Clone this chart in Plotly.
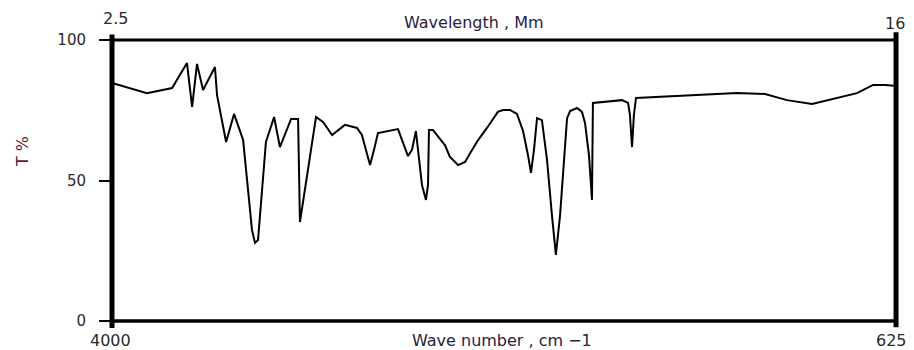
import plotly.graph_objects as go

# Wavenumber (cm-1) and transmittance (%)
wavenumber = [4000, 3850, 3742, 3678, 3656, 3635, 3609, 3558, 3549, 3510,
              3476, 3437, 3399, 3386, 3373, 3339, 3304, 3279, 3231, 3201,
              3193, 3124, 3094, 3055, 3000, 2948, 2927, 2909, 2892, 2875,
              2858, 2772, 2755, 2738, 2729, 2712, 2695, 2686, 2669, 2652,
              2643, 2639, 2622, 2570, 2549, 2514, 2484, 2463, 2428, 2390,
              2343, 2321, 2291,
              2261, 2235, 2214, 2201, 2188, 2175, 2154, 2132, 2111, 2094,
              2076, 2059, 2046, 2033, 2003, 1982, 1969, 1952, 1939, 1935,
              1810, 1784, 1776, 1767, 1759, 1750, 1570, 1445, 1316, 1196,
              1102, 994, 904, 801, 732, 681, 629]
transmittance = [84.7, 81.1, 82.9, 91.8, 76.2, 91.5, 82.2, 90.4, 80.4, 63.7,
                 73.7, 64.4, 32.4, 27.8, 28.8, 63.7, 72.6, 61.9, 71.9, 71.9,
                 35.2, 72.6, 70.8, 66.2, 69.8, 68.7, 66.2, 60.9, 55.5, 60.9,
                 66.9, 68.3, 64.4, 60.1, 58.7, 60.9, 67.6, 60.9, 48.4, 43.1,
                 48.4, 68.0, 68.0, 62.5, 58.4, 55.5, 56.6, 59.6, 64.4, 68.7,
                 74.4, 75.1, 75.1,
                 73.7, 67.6, 59.1, 52.7, 60.9, 72.2, 71.5, 57.3, 37.7, 23.5,
                 37.7, 57.3, 72.2, 74.7, 75.8, 74.4, 70.5, 59.1, 43.1, 77.6,
                 78.6, 77.6, 73.3, 61.9, 73.3, 79.4, 80.1, 80.8, 81.1, 80.8,
                 78.6, 77.2, 79.0, 81.1, 84.0, 84.0, 83.6]

y_ticks = [0, 50, 100]
bottom_labels = ["4000", "625"]
top_labels = ["2.5", "16"]
x_title = "Wave number , cm \u22121"
top_title = "Wavelength , Mm"
y_title = "T %"

FONT = "DejaVu Sans"

fig = go.Figure()
fig.add_trace(go.Scatter(
    x=wavenumber, y=transmittance, mode="lines",
    line=dict(color="black", width=2), hoverinfo="skip", showlegend=False))

# page body has an 8px margin, so the figure is drawn 8px smaller
fig.update_layout(
    width=906, height=342,
    margin=dict(l=104, r=16, t=32, b=29, pad=0),
    paper_bgcolor="white", plot_bgcolor="white",
    showlegend=False,
    xaxis=dict(range=[4000, 625], showgrid=False, zeroline=False,
               showline=False, ticks="", showticklabels=False),
    yaxis=dict(range=[0, 100], showgrid=False, zeroline=False, showline=False,
               tickvals=y_ticks, ticks="outside", ticklen=12, tickwidth=2,
               tickcolor="black", ticklabelstandoff=10,
               tickfont=dict(family=FONT, size=15, color="#2a2a2a")),
)

# Frame lines
fig.add_shape(type="line", xref="paper", yref="paper", x0=0, x1=0,
              y0=-0.025, y1=1.02, line=dict(color="black", width=5))
fig.add_shape(type="line", xref="paper", yref="paper", x0=0.9975, x1=0.9975,
              y0=-0.022, y1=1.028, line=dict(color="black", width=5))
fig.add_shape(type="line", xref="paper", yref="paper", x0=0, x1=0.9975,
              y0=1, y1=1, line=dict(color="black", width=3))
fig.add_shape(type="line", xref="paper", yref="paper", x0=0, x1=0.9975,
              y0=0, y1=0, line=dict(color="black", width=3.5))

def ann(text, x, y, size=16, color="#2a2a2a", angle=0):
    fig.add_annotation(text=text, xref="paper", yref="paper", x=x, y=y,
                       xanchor="center", yanchor="middle", showarrow=False,
                       textangle=angle,
                       font=dict(family=FONT, size=size, color=color))

ann(top_labels[0], 0.004, 1.075)
ann(top_labels[1], 0.996, 1.057)
ann(top_title, 0.461, 1.064, size=16, color="#2b2040")
ann(bottom_labels[0], -0.0025, -0.071)
ann(bottom_labels[1], 0.992, -0.068)
ann(x_title, 0.496, -0.071, size=16, color="#2b2040")
ann(y_title, -0.1145, 0.601, size=16, color="#5c1a33", angle=-90)

fig.write_html("out.html")
